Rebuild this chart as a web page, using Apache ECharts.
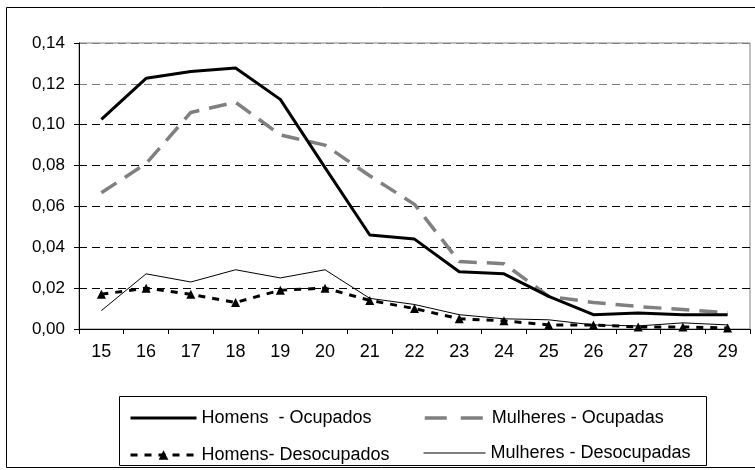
<!DOCTYPE html>
<html>
<head>
<meta charset="utf-8">
<script src="https://cdn.jsdelivr.net/npm/echarts@6/dist/echarts.min.js"></script>
<style>
  html, body { margin: 0; padding: 0; background: #fff; }
  #chart { width: 755px; height: 470px; }
</style>
</head>
<body>
<div id="chart"></div>
<script>
// idades 15..29
const ages = ['15', '16', '17', '18', '19', '20', '21', '22', '23', '24', '25', '26', '27', '28', '29']

const homensOcupados = [0.1026, 0.1227, 0.126, 0.1278, 0.1124, 0.079, 0.046, 0.044, 0.028, 0.027, 0.016, 0.007, 0.0078, 0.007, 0.007]
const mulheresOcupadas = [0.0667, 0.081, 0.106, 0.111, 0.095, 0.090, 0.075, 0.061, 0.033, 0.032, 0.016, 0.013, 0.011, 0.0095, 0.008]
const homensDesocupados = [0.017, 0.020, 0.017, 0.013, 0.019, 0.020, 0.014, 0.010, 0.005, 0.004, 0.002, 0.002, 0.001, 0.001, 0.0005]
const mulheresDesocupadas = [0.009, 0.027, 0.023, 0.029, 0.025, 0.029, 0.015, 0.012, 0.007, 0.005, 0.0045, 0.002, 0.0015, 0.003, 0.002]

const names = ['Homens  - Ocupados', 'Mulheres - Ocupadas', 'Homens- Desocupados', 'Mulheres - Desocupadas']

const font = 'Liberation Sans, Arial, sans-serif'
const chart = echarts.init(document.getElementById('chart'))

const legendText = {color: '#000', fontSize: 18, fontFamily: font}
const noSymbol = {opacity: 0}

chart.setOption({
  animation: false,
  grid: {left: 79, right: 5, top: 43, bottom: 141, show: true, borderColor: '#808080', borderWidth: 1},
  graphic: [
    {type: 'rect', shape: {x: 6.5, y: 7.5, width: 760, height: 460}, style: {fill: 'none', stroke: '#000', lineWidth: 1}, silent: true},
    {type: 'rect', shape: {x: 119.5, y: 396.5, width: 587, height: 69}, style: {fill: '#fff', stroke: '#000', lineWidth: 1}, z: -1, silent: true},
  ],
  legend: [
    {
      data: [{name: names[0], itemStyle: noSymbol, lineStyle: {color: '#000', width: 3}}],
      left: 124, top: 404, itemWidth: 66, itemHeight: 16, textStyle: legendText,
    },
    {
      data: [{name: names[1], itemStyle: noSymbol, lineStyle: {color: '#808080', width: 3.5, type: [22, 14]}}],
      left: 418, top: 404, itemWidth: 62, itemHeight: 16, textStyle: legendText,
    },
    {
      data: [{name: names[2], lineStyle: {color: '#000', width: 3, type: [7, 7]}}],
      left: 124, top: 441, itemWidth: 66, itemHeight: 12, textStyle: legendText,
    },
    {
      data: [{name: names[3], itemStyle: noSymbol, lineStyle: {color: '#000', width: 1}}],
      left: 418, top: 439, itemWidth: 62, itemHeight: 16, textStyle: legendText,
    },
  ],
  xAxis: {
    type: 'category',
    data: ages,
    boundaryGap: true,
    axisLine: {lineStyle: {color: '#000', width: 1}},
    axisTick: {show: true, length: 5, interval: 0, lineStyle: {color: '#000'}},
    axisLabel: {color: '#000', fontSize: 18, fontFamily: font, margin: 14, interval: 0},
    splitLine: {show: false},
  },
  yAxis: {
    type: 'value',
    min: 0,
    max: 0.14,
    interval: 0.02,
    axisLine: {show: true, lineStyle: {color: '#000', width: 1}},
    axisTick: {show: true, length: 5, lineStyle: {color: '#000'}},
    axisLabel: {
      color: '#000', fontSize: 17, fontFamily: font, margin: 14,
      formatter: (v) => v.toFixed(2).replace('.', ','),
    },
    splitLine: {
      show: true,
      lineStyle: {
        color: ['#000', '#000', '#000', '#000', '#000', '#000', '#808080', '#808080'],
        type: [8, 5],
        width: 1,
      },
    },
  },
  series: [
    {
      name: names[0], type: 'line', data: homensOcupados, symbol: 'none',
      lineStyle: {color: '#000', width: 3}, itemStyle: {color: '#000'}, z: 4,
    },
    {
      name: names[1], type: 'line', data: mulheresOcupadas, symbol: 'none',
      lineStyle: {color: '#808080', width: 3.5, type: [18, 10]}, itemStyle: {color: '#808080'}, z: 3,
    },
    {
      name: names[2], type: 'line', data: homensDesocupados, symbol: 'triangle', symbolSize: 9,
      lineStyle: {color: '#000', width: 3, type: [7, 7]}, itemStyle: {color: '#000'}, z: 5,
    },
    {
      name: names[3], type: 'line', data: mulheresDesocupadas, symbol: 'none',
      lineStyle: {color: '#000', width: 1}, itemStyle: {color: '#000'}, z: 2,
    },
  ],
})
</script>
</body>
</html>
